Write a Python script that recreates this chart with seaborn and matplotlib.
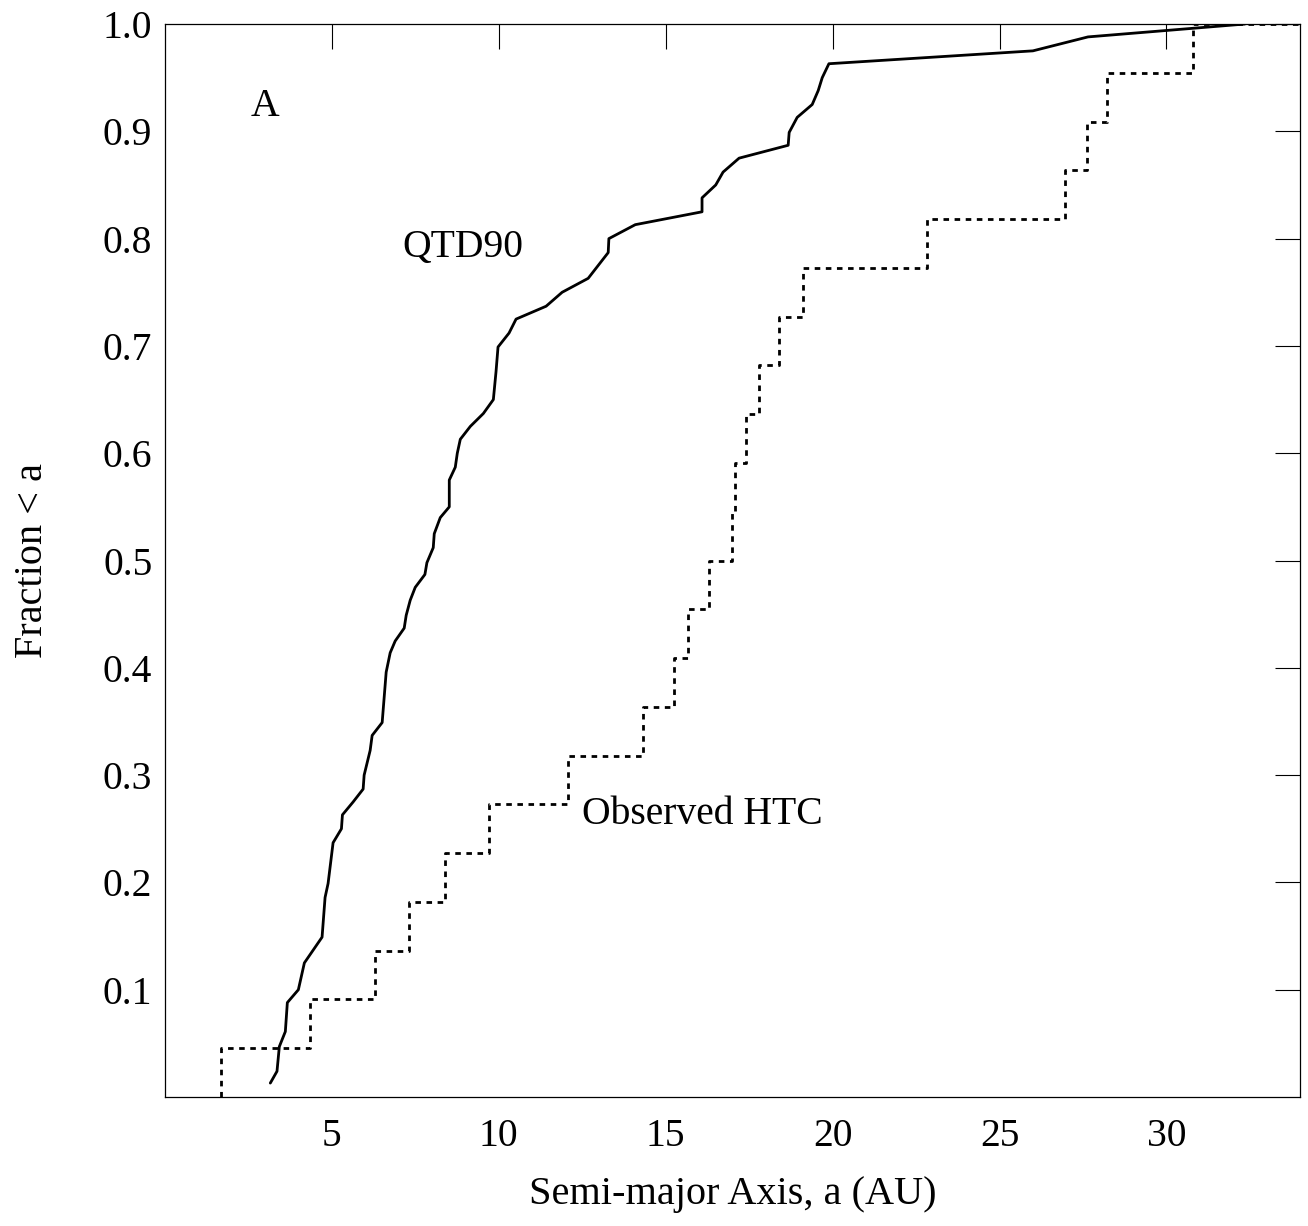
import numpy as np
import pandas as pd
import matplotlib
matplotlib.use('Agg')
import matplotlib.pyplot as plt
import seaborn as sns

sns.set_theme(style='white')
plt.rcParams['font.family'] = ['Liberation Serif', 'DejaVu Serif']
plt.rcParams['text.color'] = 'black'
plt.rcParams['axes.labelcolor'] = 'black'

# QTD90 model cumulative distribution
qtd_a = [3.16, 3.36, 3.43, 3.61, 3.67, 4.00, 4.18, 4.71, 4.80, 4.89, 5.04, 5.29, 5.32,
         5.64, 5.94, 5.97, 6.15, 6.21, 6.51, 6.63, 6.75, 6.90, 7.17, 7.23, 7.35, 7.50,
         7.79, 7.85, 8.04, 8.07, 8.25, 8.52, 8.52, 8.70, 8.76, 8.85, 9.15, 9.54, 9.84,
         9.92, 9.98, 10.31, 10.52, 11.42, 11.90, 12.68, 13.28, 13.30, 14.09, 16.09,
         16.09, 16.50, 16.72, 17.20, 18.67, 18.70, 18.94, 19.39, 19.57, 19.69, 19.89,
         26.00, 27.65, 32.35]
qtd_frac = [0.013, 0.024, 0.047, 0.061, 0.088, 0.100, 0.125, 0.149, 0.186, 0.199, 0.237,
            0.250, 0.263, 0.275, 0.287, 0.300, 0.323, 0.337, 0.349, 0.396, 0.414, 0.425,
            0.437, 0.449, 0.463, 0.475, 0.487, 0.498, 0.512, 0.525, 0.540, 0.550, 0.575,
            0.587, 0.600, 0.613, 0.625, 0.637, 0.650, 0.676, 0.699, 0.712, 0.725, 0.737,
            0.750, 0.763, 0.787, 0.800, 0.813, 0.825, 0.838, 0.850, 0.862, 0.875, 0.887,
            0.899, 0.913, 0.925, 0.938, 0.950, 0.963, 0.975, 0.988, 1.000]

# observed Halley-type comets, semi-major axes (22 objects)
htc_a = [1.69, 4.35, 6.30, 7.32, 8.40, 9.72, 12.07, 14.33, 15.25, 15.67, 16.30,
         17.00, 17.08, 17.40, 17.80, 18.40, 19.12, 22.83, 26.96, 27.62, 28.22, 30.79]

xlim = (0, 34)
fs = 28.5

qtd = pd.DataFrame({'a': qtd_a, 'frac': qtd_frac})
n = len(htc_a)
htc = pd.DataFrame({
    'a': [htc_a[0]] + htc_a + [xlim[1]],
    'frac': [0.0] + [(i + 1) / n for i in range(n)] + [1.0],
})

fig = plt.figure(figsize=(13.08, 12.26), dpi=100)
ax = fig.add_axes([0.126, 0.1052, 0.8679, 0.8752])

sns.lineplot(data=qtd, x='a', y='frac', estimator=None, sort=False,
             color='black', lw=2.0, ax=ax)
sns.lineplot(data=htc, x='a', y='frac', estimator=None, sort=False,
             color='black', lw=2.0, ls=(0, (2.0, 2.0)), drawstyle='steps-post', ax=ax)

ax.set_xlim(*xlim)
ax.set_ylim(0, 1.0)
ax.set_xticks([5, 10, 15, 20, 25, 30])
ax.set_yticks(np.round(np.arange(0.1, 1.01, 0.1), 1))
ax.set_yticklabels([f'{v:.1f}' for v in np.arange(0.1, 1.01, 0.1)])
ax.tick_params(direction='in', length=18, width=0.8, color='black',
               top=True, right=True, labelsize=fs, labelcolor='black')
ax.tick_params(axis='x', pad=15)
ax.tick_params(axis='y', pad=9)
for s in ax.spines.values():
    s.set_color('black')
    s.set_linewidth(0.9)

ax.set_xlabel('Semi-major Axis, a (AU)', fontsize=29)
ax.set_ylabel('Fraction < a', fontsize=29)
ax.xaxis.set_label_coords(0.5, -0.074)
ax.yaxis.set_label_coords(-0.100, 0.5)

ax.text(3.0, 0.923, 'A', fontsize=fs, ha='center', va='center')
ax.text(8.94, 0.792, 'QTD90', fontsize=fs, ha='center', va='center')
ax.text(16.09, 0.263, 'Observed HTC', fontsize=fs, ha='center', va='center')

fig.savefig('out.png', dpi=100)
